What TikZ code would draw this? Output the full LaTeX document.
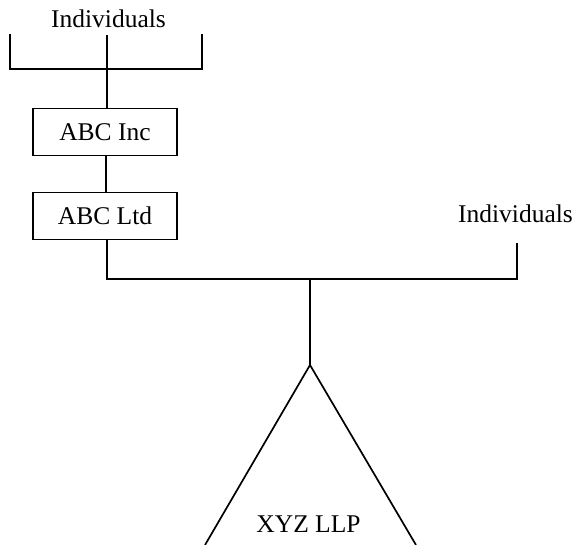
\documentclass[tikz,border=0pt]{standalone}
\usepackage{fontspec}
\setmainfont{Liberation Serif}
\begin{document}
\begin{tikzpicture}[x=1pt,y=-1pt,
  line width=1.7pt,
  lbl/.style={font=\fontsize{25.5}{29}\selectfont, inner sep=0pt, anchor=base},
  entity/.style={draw, line width=1.7pt, minimum width=144pt, minimum height=47pt, inner sep=0pt, font=\fontsize{25.5}{29}\selectfont}]
\useasboundingbox (0,0) rectangle (575,545);
\clip (0,0) rectangle (575,545);
% labels
\node[lbl] (ind1) at (108.5,28) {Individuals};
\node[lbl] (ind2) at (515.5,223) {Individuals};
\node[lbl] (xyz) at (308.5,532) {XYZ LLP};
% boxes
\node[entity] (inc) at (105,132) {ABC Inc};
\node[entity] (ltd) at (105,216) {ABC Ltd};
% coordinates
\coordinate (tl) at (10,34);
\coordinate (tr) at (202,34);
\coordinate (tm) at (107,35);
\coordinate (bar1) at (107,69);
\coordinate (r1) at (517,243);
\coordinate (bar2) at (310,279);
\coordinate (apex) at (310,365);
\coordinate (bl) at (205,545);
\coordinate (br) at (416,545);
% top bracket
\draw (tl) |- (tr |- bar1) -- (tr);
\draw (tm) -- (tm |- inc.north);
\draw (inc.south -| 106,0) -- (ltd.north -| 106,0);
% lower bracket
\draw (ltd.south -| 107,0) |- (r1 |- bar2) -- (r1);
\draw (bar2) -- (apex);
% triangle
\draw[line join=miter] (bl) -- (apex) -- (br);
\end{tikzpicture}
\end{document}
